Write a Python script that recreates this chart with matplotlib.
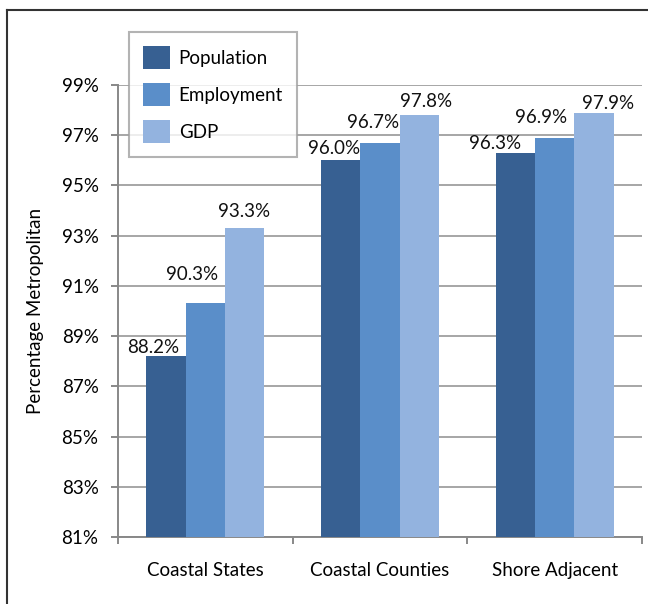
#!/usr/bin/env python3

"""
Percentage metropolitan by coastal geography (grouped bars)
"""

import numpy as np
import matplotlib
matplotlib.use("Agg")
import matplotlib.pyplot as plt
from matplotlib.lines import Line2D

plt.rcParams["font.family"] = ["Lato", "DejaVu Sans"]

categories = ["Coastal States", "Coastal Counties", "Shore Adjacent"]
series_names = ["Population", "Employment", "GDP"]
population = [88.2, 96.0, 96.3]
employment = [90.3, 96.7, 96.9]
gdp = [93.3, 97.8, 97.9]
y_ticks = [81, 83, 85, 87, 89, 91, 93, 95, 97, 99]

# hand-placed data labels in the original: (dx, gap above bar) in pixels
label_dx = [[-12.5, -6.5, -20.5], [-13, -6.5, -13.5], [-1, 7, 14.5]]
label_gap = [[3, 6, 4], [23, 15, 15], [11, 8, 4]]

colors = ["#376092", "#5a8ec9", "#93b3df"]
grid_color = "#a6a6a6"
fs = 13.5

fig = plt.figure(figsize=(6.48, 6.04), dpi=100)
ax = fig.add_axes([118 / 648, 1 - 537 / 604, 524 / 648, (537 - 85) / 604])

x = np.arange(len(categories))
width = 0.225
offsets = [-width, 0, width]
bottom = 81

for i, (vals, name, col, off) in enumerate(zip([population, employment, gdp], series_names, colors, offsets)):
    heights = [v - bottom for v in vals]
    ax.bar(x + off, heights, width, bottom=bottom, color=col, label=name, zorder=3)
    for j, (xi, v) in enumerate(zip(x, vals)):
        ax.annotate(f"{v:.1f}%", (xi + off, v),
                    xytext=(label_dx[i][j] * 0.72, label_gap[i][j] * 0.72), textcoords="offset points",
                    ha="center", va="baseline", fontsize=fs, color="#111111")

ax.set_ylim(81, 99)
ax.set_xlim(-0.5, 2.5)
ax.set_yticks(y_ticks)
ax.set_yticklabels([f"{t}%" for t in y_ticks])
ax.grid(axis="y", color=grid_color, linewidth=1.4, zorder=0)
ax.set_axisbelow(True)

# boundary ticks as major, labels at centers as minor
ax.set_xticks([-0.5, 0.5, 1.5, 2.5])
ax.set_xticklabels([])
ax.set_xticks(x, minor=True)
ax.set_xticklabels(categories, minor=True)
ax.tick_params(axis="x", which="major", length=5, width=1.4, color="#888888", direction="out")
ax.tick_params(axis="x", which="minor", length=0, pad=18, labelsize=fs)
ax.tick_params(axis="y", length=5, width=1.4, color="#888888", pad=9, labelsize=fs)

for s in ["top", "right"]:
    ax.spines[s].set_visible(False)
for s in ["left", "bottom"]:
    ax.spines[s].set_color("#888888")
    ax.spines[s].set_linewidth(1.4)

ax.set_ylabel("Percentage Metropolitan", fontsize=fs)
ax.yaxis.set_label_coords((44 - 118) / 524, 0.5)

leg = ax.legend(loc="upper left", bbox_to_anchor=(129 / 648, 1 - 32 / 604), bbox_transform=fig.transFigure,
                fontsize=fs, frameon=True, fancybox=False, handlelength=1.45, handleheight=1.5,
                labelspacing=0.75, handletextpad=0.45, borderpad=0.75, borderaxespad=0)
leg.get_frame().set_edgecolor("#a0a0a0")
leg.get_frame().set_linewidth(1.5)

# outer frame around the chart
fig.add_artist(Line2D([7 / 648, 7 / 648], [0, 1 - 10 / 604], transform=fig.transFigure, color="#333333", lw=1.5))
fig.add_artist(Line2D([7 / 648, 1], [1 - 10 / 604, 1 - 10 / 604], transform=fig.transFigure, color="#333333", lw=1.5))

fig.savefig("out.png", dpi=100)
